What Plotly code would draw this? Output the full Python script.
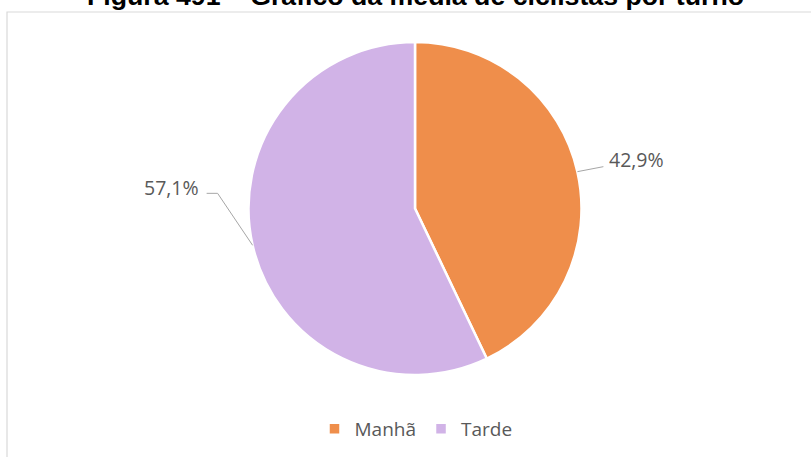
import math
import plotly.graph_objects as go

W, H = 811, 457

# Data
categories = ["Manhã", "Tarde"]
values = [42.9, 57.1]
value_labels = ["42,9%", "57,1%"]
colors = ["#EF8E4B", "#D1B3E7"]
title_text = "<b>Figura 491 – Gráfico da média de ciclistas por turno</b>"

# Pie geometry in pixels (layout)
cx, cy, r = 415.0, 208.5, 166.5

def px(x):
    return x / W

def py(y):
    return 1 - y / H

fig = go.Figure()
fig.add_trace(go.Pie(
    labels=categories,
    values=values,
    marker=dict(colors=colors, line=dict(color="white", width=2.5)),
    sort=False,
    direction="clockwise",
    rotation=0,
    textinfo="none",
    hoverinfo="label+percent",
    domain=dict(x=[px(cx - r), px(cx + r)], y=[py(cy + r), py(cy - r)]),
))

# Leader lines and labels computed from slice mid-angles
shapes = []
annotations = []
total = sum(values)
cum = 0.0
label_color = "#595959"
for i, v in enumerate(values):
    mid = (cum + v / 2) / total * 2 * math.pi
    cum += v
    ex = cx + r * math.sin(mid)
    ey = cy - r * math.cos(mid)
    if math.sin(mid) >= 0:
        lx, ly = ex + 26, ey - 5
        pts = [(ex, ey), (lx, ly)]
        tx, anchor = lx + 4, "left"
        ty = ly - 7
    else:
        kx, ky = ex - 35, ey - 52
        lx, ly = kx - 11, ky
        pts = [(ex, ey), (kx, ky), (lx, ly)]
        tx, anchor = lx - 6, "right"
        ty = ly - 6
    path = "M " + " L ".join(f"{px(x):.5f},{py(y):.5f}" for x, y in pts)
    shapes.append(dict(type="path", path=path, xref="paper", yref="paper",
                       line=dict(color="#A6A6A6", width=1)))
    annotations.append(dict(text=value_labels[i], x=px(tx), y=py(ty),
                            xref="paper", yref="paper", xanchor=anchor,
                            yanchor="middle", showarrow=False,
                            font=dict(family="Open Sans", size=19.5, color=label_color)))

# Chart border
shapes.append(dict(type="rect", xref="paper", yref="paper",
                   x0=px(7), x1=px(W + 5), y0=py(H + 5), y1=py(12),
                   line=dict(color="#D9D9D9", width=1.2), fillcolor="rgba(0,0,0,0)",
                   layer="below"))

annotations.append(dict(text=title_text, x=px(415.5), y=py(-4), xref="paper", yref="paper",
                        xanchor="center", yanchor="middle", showarrow=False,
                        font=dict(family="Liberation Sans", size=26.7, color="#000000")))

fig.update_layout(
    width=W, height=H,
    margin=dict(l=0, r=0, t=0, b=0),
    paper_bgcolor="white",
    plot_bgcolor="white",
    showlegend=True,
    legend=dict(orientation="h", x=px(416), xanchor="center", y=py(429), yanchor="middle",
                font=dict(family="Open Sans", size=19, color=label_color),
                itemwidth=30, traceorder="normal"),
    shapes=shapes,
    annotations=annotations,
)

fig.write_html("out.html", config={"displayModeBar": False},
               post_script="document.body.style.margin='0';document.body.style.overflow='hidden';")
